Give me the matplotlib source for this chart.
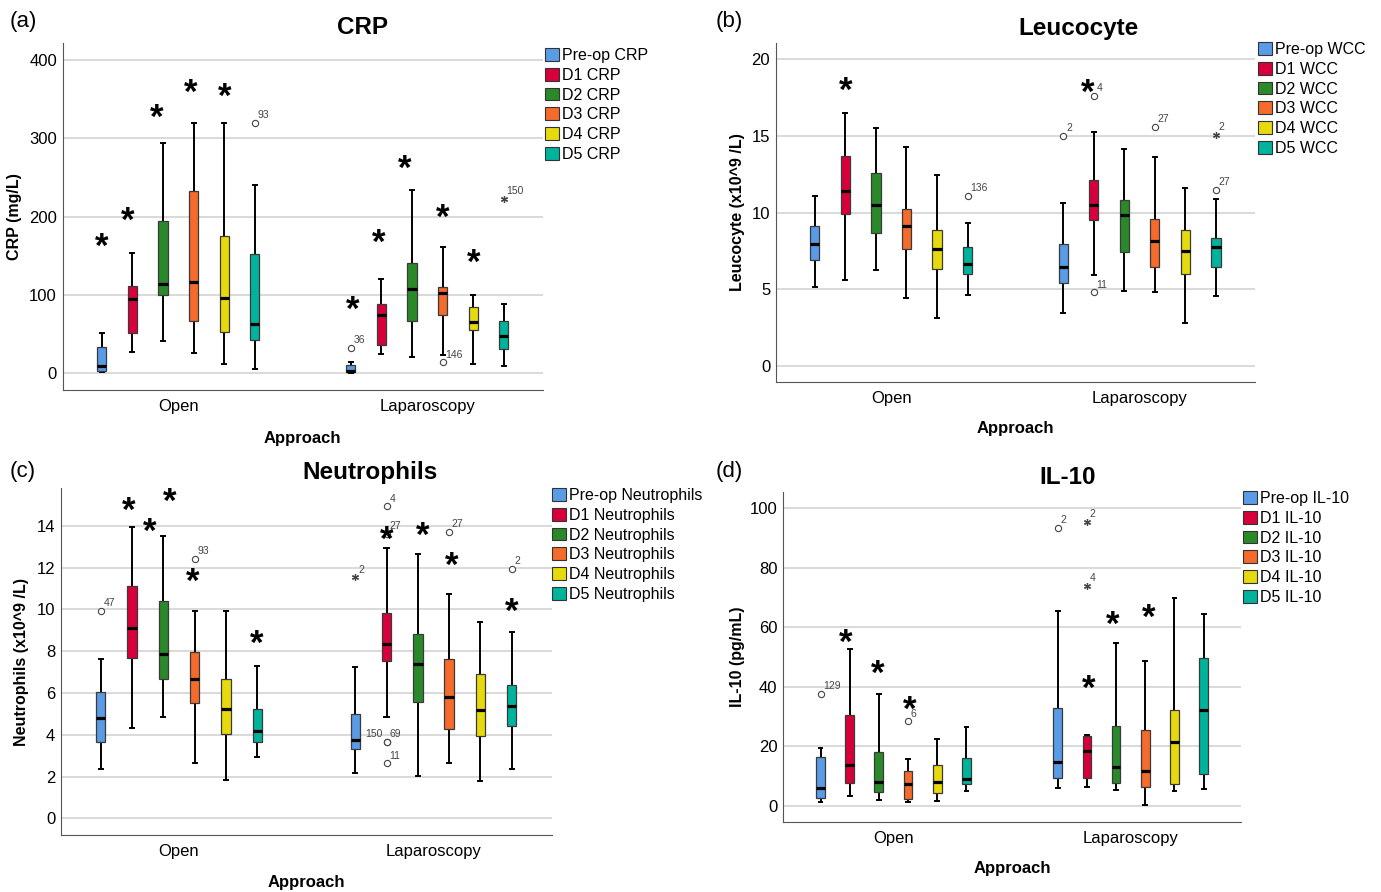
import numpy as np
import matplotlib.pyplot as plt
from matplotlib.patches import Patch

plt.rcParams['font.family'] = ['Liberation Sans', 'DejaVu Sans']

W, H = 1381, 892

groups = ['Open', 'Laparoscopy']
days = ['Pre-op', 'D1', 'D2', 'D3', 'D4', 'D5']
colors = ['#5a9be6', '#d8003a', '#2a8a2a', '#f46b2b', '#e6d90e', '#00b39c']

# box stats for each day: whisker low, Q1, median, Q3, whisker high
crp_open = [[1.3, 3, 9.4, 33, 51], [27.7, 52, 95, 111.5, 153], [41.7, 100, 114, 194.5, 294.5],
            [26.4, 67, 116.6, 233, 320], [12.3, 53, 95.7, 175, 320], [6, 42, 62.5, 152, 241]]
crp_lap = [[0.9, 1.3, 3, 10.6, 15], [24.7, 35.7, 74, 88, 121], [20.4, 67, 107, 141, 234],
           [23, 74, 102.6, 110, 161.7], [11.5, 55, 65.5, 85, 100], [9.4, 30.6, 47.7, 67, 88.5]]
# outliers: (group, day, value, case label, kind)  'o' = outlier, '*' = extreme
crp_out = [(0, 5, 320, '93', 'o'), (1, 0, 32, '36', 'o'), (1, 3, 14, '146', 'o'), (1, 5, 222.5, '150', '*')]
# significance stars: (group, day slot, y)
crp_sig = [(0, 0.0, 174.5), (0, 0.85, 207), (0, 1.8, 339), (0, 2.9, 371), (0, 4.0, 365),
           (1, 0.05, 93.6), (1, 0.9, 178.7), (1, 1.75, 273), (1, 3.0, 210.6), (1, 4.0, 153)]

wcc_open = [[5.11, 6.88, 7.97, 9.12, 11.1], [5.59, 9.88, 11.43, 13.69, 16.52], [6.25, 8.66, 10.47, 12.56, 15.52],
            [4.42, 7.6, 9.12, 10.25, 14.25], [3.09, 6.31, 7.64, 8.88, 12.45], [4.61, 5.98, 6.62, 7.77, 9.31]]
wcc_lap = [[3.42, 5.42, 6.44, 7.92, 10.64], [5.92, 9.51, 10.51, 12.1, 15.26], [4.9, 7.4, 9.81, 10.79, 14.15],
           [4.81, 6.42, 8.12, 9.6, 13.65], [2.76, 6.01, 7.51, 8.84, 11.58], [4.53, 6.42, 7.73, 8.36, 10.9]]
wcc_out = [(0, 5, 11.1, '136', 'o'), (1, 0, 15.0, '2', 'o'), (1, 1, 17.63, '4', 'o'), (1, 1, 4.79, '11', 'o'),
           (1, 3, 15.58, '27', 'o'), (1, 5, 11.47, '27', 'o'), (1, 5, 15.08, '2', '*')]
wcc_sig = [(0, 1.0, 18.6), (1, 0.8, 18.43)]

neu_open = [[2.35, 3.66, 4.79, 6.07, 7.61], [4.34, 7.66, 9.13, 11.11, 13.94], [4.84, 6.67, 7.87, 10.38, 13.52],
            [2.63, 5.52, 6.67, 7.97, 9.91], [1.84, 4.04, 5.25, 6.66, 9.91], [2.92, 3.67, 4.18, 5.25, 7.31]]
neu_lap = [[2.16, 3.34, 3.74, 5.01, 7.23], [4.84, 7.52, 8.35, 9.85, 12.92], [2.03, 5.56, 7.38, 8.83, 12.63],
           [2.63, 4.29, 5.83, 7.61, 10.74], [1.8, 3.94, 5.17, 6.91, 9.39], [2.36, 4.42, 5.38, 6.39, 8.91]]
neu_out = [(0, 0, 9.93, '47', 'o'), (0, 3, 12.42, '93', 'o'), (1, 0, 11.53, '2', '*'),
           (1, 1, 14.93, '4', 'o'), (1, 1, 13.62, '27', 'o'), (1, 1, 3.64, '69', 'o'),
           (1, 1, 3.64, '150', 'o'), (1, 1, 2.63, '11', 'o'), (1, 3, 13.7, '27', 'o'), (1, 5, 11.93, '2', 'o')]
neu_sig = [(0, 0.88, 15.17), (0, 1.57, 14.2), (0, 2.19, 15.6), (0, 2.93, 11.77), (0, 4.99, 8.81),
           (1, 1.02, 13.8), (1, 2.17, 13.97), (1, 3.08, 12.56), (1, 5.0, 10.33)]

il_open = [[1.46, 2.8, 6.05, 16.3, 19.4], [3.25, 7.6, 13.9, 30.5, 52.7], [2.0, 4.7, 7.95, 18.0, 37.7],
           [1.23, 2.46, 7.5, 11.65, 15.8], [1.68, 4.37, 7.95, 13.9, 22.6], [4.93, 7.5, 9.07, 16.1, 26.5]]
il_lap = [[5.9, 9.5, 14.9, 33.0, 65.6], [6.3, 9.3, 18.4, 23.6, 23.9], [5.4, 7.84, 13.1, 26.9, 54.6],
          [0.2, 6.5, 11.76, 25.5, 48.8], [5.15, 7.3, 21.4, 32.4, 69.9], [5.8, 10.75, 32.4, 49.6, 64.6]]
il_out = [(0, 0, 37.7, '129', 'o'), (0, 3, 28.4, '6', 'o'), (1, 0, 93.5, '2', 'o'),
          (1, 1, 95.5, '2', '*'), (1, 1, 73.9, '4', '*')]
il_sig = [(0, 0.85, 58), (0, 1.95, 47.6), (0, 3.07, 35.6), (1, 1.06, 42.6), (1, 1.87, 64.2), (1, 3.11, 66.4)]

STEP = 0.123


def xpos(g, slot):
    return g + (slot - 2.5) * STEP


def draw_panel(ax, open_stats, lap_stats, outliers, sig, yticks, ylim, ylabel, ylab_x):
    stats, pos, cols = [], [], []
    for g, rows in enumerate([open_stats, lap_stats]):
        for i, (lo, q1, med, q3, hi) in enumerate(rows):
            stats.append(dict(whislo=lo, q1=q1, med=med, q3=q3, whishi=hi, fliers=[]))
            pos.append(xpos(g, i))
            cols.append(colors[i])
    bp = ax.bxp(stats, positions=pos, widths=0.037, capwidths=0.016, patch_artist=True,
                showfliers=False, manage_ticks=False,
                boxprops=dict(edgecolor='#3a3a3a', linewidth=0.9, zorder=3),
                medianprops=dict(color='black', linewidth=2.3, zorder=4, solid_capstyle='butt'),
                whiskerprops=dict(color='black', linewidth=1.4, zorder=2),
                capprops=dict(color='black', linewidth=1.4, zorder=2))
    for b, c in zip(bp['boxes'], cols):
        b.set_facecolor(c)

    seen = set()
    for g, i, v, lab, kind in outliers:
        x = xpos(g, i)
        if kind == 'o':
            ax.plot(x, v, 'o', mfc='white', mec='#444444', ms=4.5, mew=0.8, zorder=4)
        else:
            ax.plot(x, v, marker=(6, 2, 0), color='#444444', ms=5, mew=0.9, zorder=4)
        if (x, v) in seen:
            ax.annotate(lab, (x, v), xytext=(-3, 2), textcoords='offset points',
                        fontsize=7.5, color='#444444', ha='right', va='bottom')
        else:
            ax.annotate(lab, (x, v), xytext=(2, 2), textcoords='offset points',
                        fontsize=7.5, color='#444444', ha='left', va='bottom')
        seen.add((x, v))

    for g, s, y in sig:
        ax.annotate('*', (xpos(g, s), y), xytext=(0, -7.4), textcoords='offset points',
                    ha='center', va='center', fontsize=25, fontweight='bold', zorder=5)

    ax.set_xlim(-0.465, 1.465)
    ax.set_ylim(*ylim)
    ax.set_yticks(yticks)
    ax.set_xticks([0, 1], groups)
    ax.tick_params(axis='both', length=0, labelsize=12)
    ax.tick_params(axis='x', pad=6.5)
    ax.tick_params(axis='y', pad=4)
    ax.yaxis.grid(True, color='#d3d3d3', lw=1.2)
    ax.set_axisbelow(True)
    for s in ['top', 'right']:
        ax.spines[s].set_visible(False)
    for s in ['left', 'bottom']:
        ax.spines[s].set_color('#555555')
    ax.set_ylabel(ylabel, fontsize=11.5, fontweight='bold')
    ax.yaxis.set_label_coords(ylab_x, 0.5)


fig = plt.figure(figsize=(W / 100, H / 100), dpi=100)

panels = [
    ([0.04526, 0.5628, 0.3480, 0.3893], crp_open, crp_lap, crp_out, crp_sig, [0, 100, 200, 300, 400],
     (-21.3, 422), 'CRP (mg/L)', -0.084, 'CRP', 'CRP', (362, 28), (10, 22), (302, 438), (545, 48)),
    ([0.5617, 0.5714, 0.3471, 0.3807], wcc_open, wcc_lap, wcc_out, wcc_sig, [0, 5, 10, 15, 20],
     (-1.08, 21.08), 'Leucocyte (x10^9 /L)', -0.064, 'Leucocyte', 'WCC', (1078, 28), (716, 22), (1015, 429), (1258, 42)),
    ([0.04395, 0.0639, 0.3556, 0.3887], neu_open, neu_lap, neu_out, neu_sig, [0, 2, 4, 6, 8, 10, 12, 14],
     (-0.8, 15.8), 'Neutrophils (x10^9 /L)', -0.0645, 'Neutrophils', 'Neutrophils', (370, 473), (10, 471), (306, 883), (552, 488)),
    ([0.5671, 0.0781, 0.3315, 0.3707], il_open, il_lap, il_out, il_sig, [0, 20, 40, 60, 80, 100],
     (-5.5, 105.6), 'IL-10 (pg/mL)', -0.083, 'IL-10', 'IL-10', (1068, 478), (716, 471), (1012, 868), (1243, 491)),
]
letters = ['(a)', '(b)', '(c)', '(d)']

for k, (rect, op, lp, out, sig, yt, yl, ylab, ylx, title, leg, tpos, lpos, apos, gpos) in enumerate(panels):
    ax = fig.add_axes(rect)
    draw_panel(ax, op, lp, out, sig, yt, yl, ylab, ylx)
    fig.text(tpos[0] / W, 1 - tpos[1] / H, title, fontsize=17.5, fontweight='bold', ha='center', va='center')
    fig.text(lpos[0] / W, 1 - lpos[1] / H, letters[k], fontsize=16, ha='left', va='center')
    fig.text(apos[0] / W, 1 - apos[1] / H, 'Approach', fontsize=12, fontweight='bold', ha='center', va='center')
    handles = [Patch(facecolor=c, edgecolor='#333333', lw=0.8) for c in colors]
    fig.legend(handles=handles, labels=[f'{d} {leg}' for d in days], loc='upper left',
               bbox_to_anchor=(gpos[0] / W, 1 - gpos[1] / H), frameon=False, fontsize=11.5,
               handlelength=0.85, handleheight=0.85, handletextpad=0.2, labelspacing=0.3,
               borderpad=0, borderaxespad=0)

fig.savefig('out.png', dpi=100)
